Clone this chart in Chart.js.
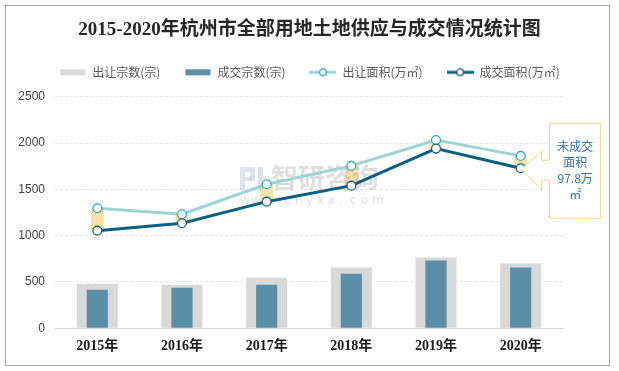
<!DOCTYPE html>
<html>
<head>
<meta charset="utf-8">
<script src="https://cdn.jsdelivr.net/npm/chart.js@4.4.0/dist/chart.umd.min.js"></script>
<style>
  body { margin: 0; background: #fff; }
  #wrap { width: 619px; height: 371px; position: relative; }
</style>
</head>
<body>
<div id="wrap"><canvas id="chartcanvas"></canvas></div>
<script>
var categories = ["2015年", "2016年", "2017年", "2018年", "2019年", "2020年"];
var supplyCount = [481, 470, 547, 655, 764, 699];     // 出让宗数(宗)
var dealCount = [416, 438, 470, 590, 731, 655];       // 成交宗数(宗)
var supplyArea = [1296, 1231, 1555, 1753, 2033, 1861]; // 出让面积(万㎡)
var dealArea = [1054, 1134, 1367, 1540, 1940, 1728];   // 成交面积(万㎡)
var yTicks = [0, 500, 1000, 1500, 2000, 2500];
var calloutText = ["未成交", "面积", "97.8万", "㎡"];

var GRAY = "#d9d9d9", BLUE = "#5b8fa8", LIGHT = "#9fd4d4", DARK = "#0b5f80";

// legend icons
function rectIcon(color) {
	var c = document.createElement("canvas");
	c.width = 27; c.height = 8;
	var g = c.getContext("2d");
	g.fillStyle = color;
	g.fillRect(1, 1, 25, 6);
	return c;
}
function lineIcon(color, ring) {
	var c = document.createElement("canvas");
	c.width = 27; c.height = 10;
	var g = c.getContext("2d");
	g.strokeStyle = color; g.lineWidth = 3;
	g.beginPath(); g.moveTo(0, 5); g.lineTo(27, 5); g.stroke();
	g.beginPath(); g.arc(13.5, 5, 3.3, 0, Math.PI * 2);
	g.fillStyle = "#fff"; g.fill();
	g.strokeStyle = ring; g.lineWidth = 1.3; g.stroke();
	return c;
}
var legendIcons = [rectIcon(GRAY), rectIcon(BLUE), lineIcon(LIGHT, "#2fa3d6"), lineIcon(DARK, "#1d5f7d")];

var extras = {
	id: "extras",
	afterInit: function(chart) {
		// leave a gap between legend and plot
		var fit = chart.legend.fit;
		chart.legend.fit = function() { fit.call(this); this.height += 8.4; };
	},
	beforeDatasetsDraw: function(chart) {
		var ctx = chart.ctx;
		var a = chart.getDatasetMeta(2).data, b = chart.getDatasetMeta(3).data;
		ctx.save();
		ctx.fillStyle = "#f9e2a6";
		for (var i = 0; i < a.length; i++) {
			ctx.fillRect(a[i].x - 6.5, a[i].y, 13, b[i].y - a[i].y);
		}
		// watermark
		ctx.fillStyle = "rgba(120,140,180,0.25)";
		ctx.fillRect(240, 167, 5, 23);
		ctx.fillRect(245, 167, 10, 5);
		ctx.fillRect(250, 172, 5, 9);
		ctx.fillRect(245, 177, 6, 4);
		ctx.fillRect(258, 167, 5, 23);
		ctx.font = "bold 27px 'Noto Sans CJK SC'";
		ctx.fillStyle = "rgba(140,140,140,0.28)";
		ctx.textBaseline = "middle";
		ctx.fillText("智研咨询", 271, 178);
		ctx.font = "12px 'DejaVu Sans'";
		var www = "www.chyxx.com";
		for (var k = 0; k < www.length; k++) {
			ctx.fillText(www[k], 240 + k * 11, 201);
		}
		ctx.restore();
	},
	afterDraw: function(chart) {
		var ctx = chart.ctx;
		var pts = chart.getDatasetMeta(3).data;
		var p = pts[pts.length - 1];
		var tx = p.x + 1, ty = p.y + 1;
		var L = tx + 28, R = tx + 79, T = ty - 46, B = ty + 49;
		var n1 = ty - 9, n2 = ty + 11, ax = tx + 20, w1 = ty - 18, w2 = ty + 21;
		ctx.save();
		ctx.beginPath();
		ctx.moveTo(L, T); ctx.lineTo(R, T); ctx.lineTo(R, B); ctx.lineTo(L, B);
		ctx.lineTo(L, n2); ctx.lineTo(ax, n2); ctx.lineTo(ax, w2); ctx.lineTo(tx, ty);
		ctx.lineTo(ax, w1); ctx.lineTo(ax, n1); ctx.lineTo(L, n1); ctx.closePath();
		ctx.fillStyle = "#fff"; ctx.fill();
		ctx.strokeStyle = "#f8d57e"; ctx.lineWidth = 1; ctx.stroke();
		ctx.fillStyle = "#3373a8";
		ctx.font = "12px 'Noto Sans CJK SC'";
		ctx.textAlign = "center"; ctx.textBaseline = "middle";
		var cy = (T + B) / 2, cx = (L + R) / 2;
		for (var i = 0; i < calloutText.length; i++) {
			ctx.fillText(calloutText[i], cx, cy + (i - 1.5) * 16);
		}
		// outer frame
		ctx.strokeStyle = "#a6a6a6";
		ctx.strokeRect(5.5, 5.5, 604, 360);
		ctx.restore();
	}
};

var ctx = document.getElementById("chartcanvas").getContext("2d");
var myChart = new Chart(ctx, {
	type: "bar",
	data: {
		labels: categories,
		datasets: [
			{ label: "出让宗数(宗)", data: supplyCount, backgroundColor: GRAY, grouped: false, barPercentage: 0.485, categoryPercentage: 1, order: 4 },
			{ label: "成交宗数(宗)", data: dealCount, backgroundColor: BLUE, grouped: false, barPercentage: 0.25, categoryPercentage: 1, order: 3 },
			{ type: "line", label: "出让面积(万㎡)", data: supplyArea, borderColor: LIGHT, borderWidth: 3, tension: 0,
				pointRadius: 4.4, pointBorderWidth: 1.3, pointBackgroundColor: "#fff", pointBorderColor: "#2fa3d6", order: 2 },
			{ type: "line", label: "成交面积(万㎡)", data: dealArea, borderColor: DARK, borderWidth: 3, tension: 0,
				pointRadius: 4.4, pointBorderWidth: 1.3, pointBackgroundColor: "#fff", pointBorderColor: "#1d5f7d", order: 1 }
		]
	},
	options: {
		responsive: true,
		maintainAspectRatio: false,
		animation: false,
		layout: { padding: { left: 0, right: 0, top: 5, bottom: 0 } },
		plugins: {
			tooltip: { enabled: false },
			title: {
				display: true,
				text: "2015-2020年杭州市全部用地土地供应与成交情况统计图",
				color: "#262626",
				font: { family: "'Liberation Serif', 'Noto Sans CJK SC'", size: 19, weight: "bold" },
				padding: { top: 13.4, bottom: 1.1 }
			},
			legend: {
				labels: {
					usePointStyle: true,
					pointStyleWidth: 27,
					padding: 24,
					color: "#595959",
					font: { family: "'Noto Sans CJK SC'", size: 12 },
					generateLabels: function(chart) {
						return chart.data.datasets.map(function(ds, i) {
							return { text: ds.label, pointStyle: legendIcons[i], fontColor: "#595959", datasetIndex: i,
								hidden: false, lineWidth: 0, strokeStyle: "rgba(0,0,0,0)", fillStyle: "rgba(0,0,0,0)" };
						});
					}
				}
			}
		},
		scales: {
			x: {
				grid: { display: false, drawTicks: false },
				border: { display: true, color: "#d9d9d9", width: 1 },
				ticks: { color: "#1a1a1a", padding: 10, font: { family: "'Liberation Serif', 'Noto Sans CJK SC'", size: 14, weight: "bold" } },
				afterFit: function(s) { s.height = 42.7; }
			},
			y: {
				min: 0, max: 2500,
				afterBuildTicks: function(s) { s.ticks = yTicks.map(function(v) { return { value: v }; }); },
				grid: { color: "#e9e9e9", drawTicks: false },
				border: { display: false, dash: [3, 2] },
				ticks: { color: "#404040", padding: 10, font: { family: "'Liberation Sans'", size: 12 },
					callback: function(v) { return String(v); } },
				afterFit: function(s) { s.width = 55; }
			},
			yRight: {
				position: "right",
				display: true,
				grid: { display: false, drawTicks: false },
				border: { display: false },
				ticks: { display: false },
				afterFit: function(s) { s.width = 56; }
			}
		}
	},
	plugins: [extras]
});
</script>
</body>
</html>
